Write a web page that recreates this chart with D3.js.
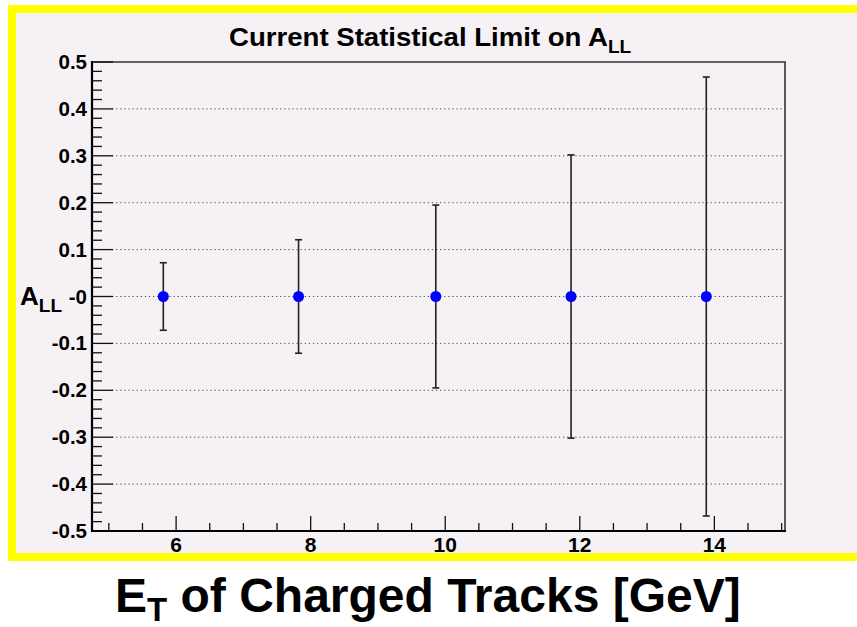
<!DOCTYPE html>
<html>
<head>
<meta charset="utf-8">
<script src="https://cdn.jsdelivr.net/npm/d3@7"></script>
<style>
  body { margin: 0; background: #fff; }
  svg { display: block; font-family: "Liberation Sans", Arial, Helvetica, sans-serif; }
</style>
</head>
<body>
<div id="chart"></div>
<script>
// measured points (x in GeV, value of A_LL, stat error)
const xValues = [5.81, 7.82, 9.86, 11.87, 13.88];
const yValues = [0, 0, 0, 0, 0];
const yErrors = [0.072, 0.121, 0.195, 0.302, 0.468];

const xTicks = [6, 8, 10, 12, 14];
const yTicks = [0.5, 0.4, 0.3, 0.2, 0.1, 0, -0.1, -0.2, -0.3, -0.4, -0.5];
const yTickLabels = ["0.5", "0.4", "0.3", "0.2", "0.1", "-0", "-0.1", "-0.2", "-0.3", "-0.4", "-0.5"];

const W = 857, H = 627;
const frame = {left: 92, right: 785, top: 62, bottom: 531};

const svg = d3.select("#chart").append("svg")
    .attr("width", W)
    .attr("height", H);

// canvas with yellow border (top, left, bottom)
svg.append("rect").attr("x", 8).attr("y", 5).attr("width", W - 8).attr("height", 556).attr("fill", "#ffff00");
svg.append("rect").attr("x", 16).attr("y", 13).attr("width", W - 16).attr("height", 540).attr("fill", "#f5f1f5");

const x = d3.scaleLinear().domain([4.75, 15.05]).range([frame.left, frame.right]);
const y = d3.scaleLinear().domain([-0.5, 0.5]).range([frame.bottom, frame.top]);

const g = svg.append("g");

// dotted grid on the y majors
g.selectAll(".grid")
    .data(yTicks.filter(v => v > -0.5 && v < 0.5))
    .enter().append("line")
    .attr("class", "grid")
    .attr("x1", frame.left + 20)
    .attr("x2", frame.right)
    .attr("y1", d => y(d))
    .attr("y2", d => y(d))
    .attr("stroke", "#555")
    .attr("stroke-width", 1)
    .attr("stroke-dasharray", "1.3,2.8");

// frame top + right
g.append("path")
    .attr("d", `M${frame.left},${frame.top}H${frame.right}V${frame.bottom}`)
    .attr("fill", "none")
    .attr("stroke", "#333")
    .attr("stroke-width", 1.6);

// y axis: minor ticks every 0.02, majors every 0.1
const yMinor = d3.range(-0.5, 0.5001, 0.02);
g.selectAll(".ymin")
    .data(yMinor)
    .enter().append("line")
    .attr("x1", frame.left)
    .attr("x2", d => frame.left + (Math.abs(Math.round(d * 50)) % 5 === 0 ? 21 : 10))
    .attr("y1", d => y(d))
    .attr("y2", d => y(d))
    .attr("stroke", "#111")
    .attr("stroke-width", 1.3);

// x axis: minor ticks every 0.5, majors every 2
const xMinor = d3.range(5, 15.001, 0.5);
g.selectAll(".xmin")
    .data(xMinor)
    .enter().append("line")
    .attr("x1", d => x(d))
    .attr("x2", d => x(d))
    .attr("y1", frame.bottom)
    .attr("y2", d => frame.bottom - (xTicks.includes(d) ? 15 : 8))
    .attr("stroke", "#111")
    .attr("stroke-width", 1.3);

g.append("line")
    .attr("x1", frame.left).attr("x2", frame.left)
    .attr("y1", frame.top - 1).attr("y2", frame.bottom + 1)
    .attr("stroke", "#000").attr("stroke-width", 2.2);
g.append("line")
    .attr("x1", frame.left - 1).attr("x2", frame.right + 1)
    .attr("y1", frame.bottom).attr("y2", frame.bottom)
    .attr("stroke", "#000").attr("stroke-width", 2.2);

// tick labels
g.selectAll(".ylab")
    .data(yTicks)
    .enter().append("text")
    .attr("x", 87)
    .attr("y", d => y(d) + 7)
    .attr("text-anchor", "end")
    .attr("font-size", 20.5)
    .attr("font-weight", "bold")
    .attr("fill", "#000")
    .text((d, i) => yTickLabels[i]);

g.selectAll(".xlab")
    .data(xTicks)
    .enter().append("text")
    .attr("x", d => x(d))
    .attr("y", 552)
    .attr("text-anchor", "middle")
    .attr("font-size", 21)
    .attr("font-weight", "bold")
    .attr("fill", "#000")
    .text(d => d);

// error bars
const pts = xValues.map((v, i) => ({x: v, y: yValues[i], e: yErrors[i]}));
const bars = g.selectAll(".err").data(pts).enter().append("g");
bars.append("line")
    .attr("x1", d => x(d.x)).attr("x2", d => x(d.x))
    .attr("y1", d => y(d.y + d.e)).attr("y2", d => y(d.y - d.e))
    .attr("stroke", "#222").attr("stroke-width", 1.6);
bars.append("line")
    .attr("x1", d => x(d.x) - 3.5).attr("x2", d => x(d.x) + 3.5)
    .attr("y1", d => y(d.y + d.e)).attr("y2", d => y(d.y + d.e))
    .attr("stroke", "#222").attr("stroke-width", 1.6);
bars.append("line")
    .attr("x1", d => x(d.x) - 3.5).attr("x2", d => x(d.x) + 3.5)
    .attr("y1", d => y(d.y - d.e)).attr("y2", d => y(d.y - d.e))
    .attr("stroke", "#222").attr("stroke-width", 1.6);

g.selectAll(".pt")
    .data(pts)
    .enter().append("circle")
    .attr("cx", d => x(d.x))
    .attr("cy", d => y(d.y))
    .attr("r", 5.5)
    .attr("fill", "#0000ff");

// title
const title = svg.append("text")
    .attr("x", 229)
    .attr("y", 46)
    .attr("font-size", 25)
    .attr("font-weight", "bold")
    .attr("fill", "#000");
title.append("tspan")
    .attr("textLength", 379)
    .attr("lengthAdjust", "spacingAndGlyphs")
    .text("Current Statistical Limit on A");
title.append("tspan").attr("dy", 7).attr("font-size", 19).text("LL");

// y axis title
const yTitle = svg.append("text")
    .attr("x", 20)
    .attr("y", 305)
    .attr("font-size", 26)
    .attr("font-weight", "bold")
    .attr("fill", "#000");
yTitle.append("tspan").text("A");
yTitle.append("tspan").attr("dy", 7).attr("font-size", 19).text("LL");

// x axis title (below the canvas)
const xTitle = svg.append("text")
    .attr("x", 115)
    .attr("y", 612)
    .attr("font-size", 48)
    .attr("font-weight", "bold")
    .attr("fill", "#000");
xTitle.append("tspan").text("E");
xTitle.append("tspan").attr("dy", 9).attr("font-size", 33).text("T");
xTitle.append("tspan").attr("dy", -9).text(" of Charged Tracks [GeV]");
</script>
</body>
</html>
